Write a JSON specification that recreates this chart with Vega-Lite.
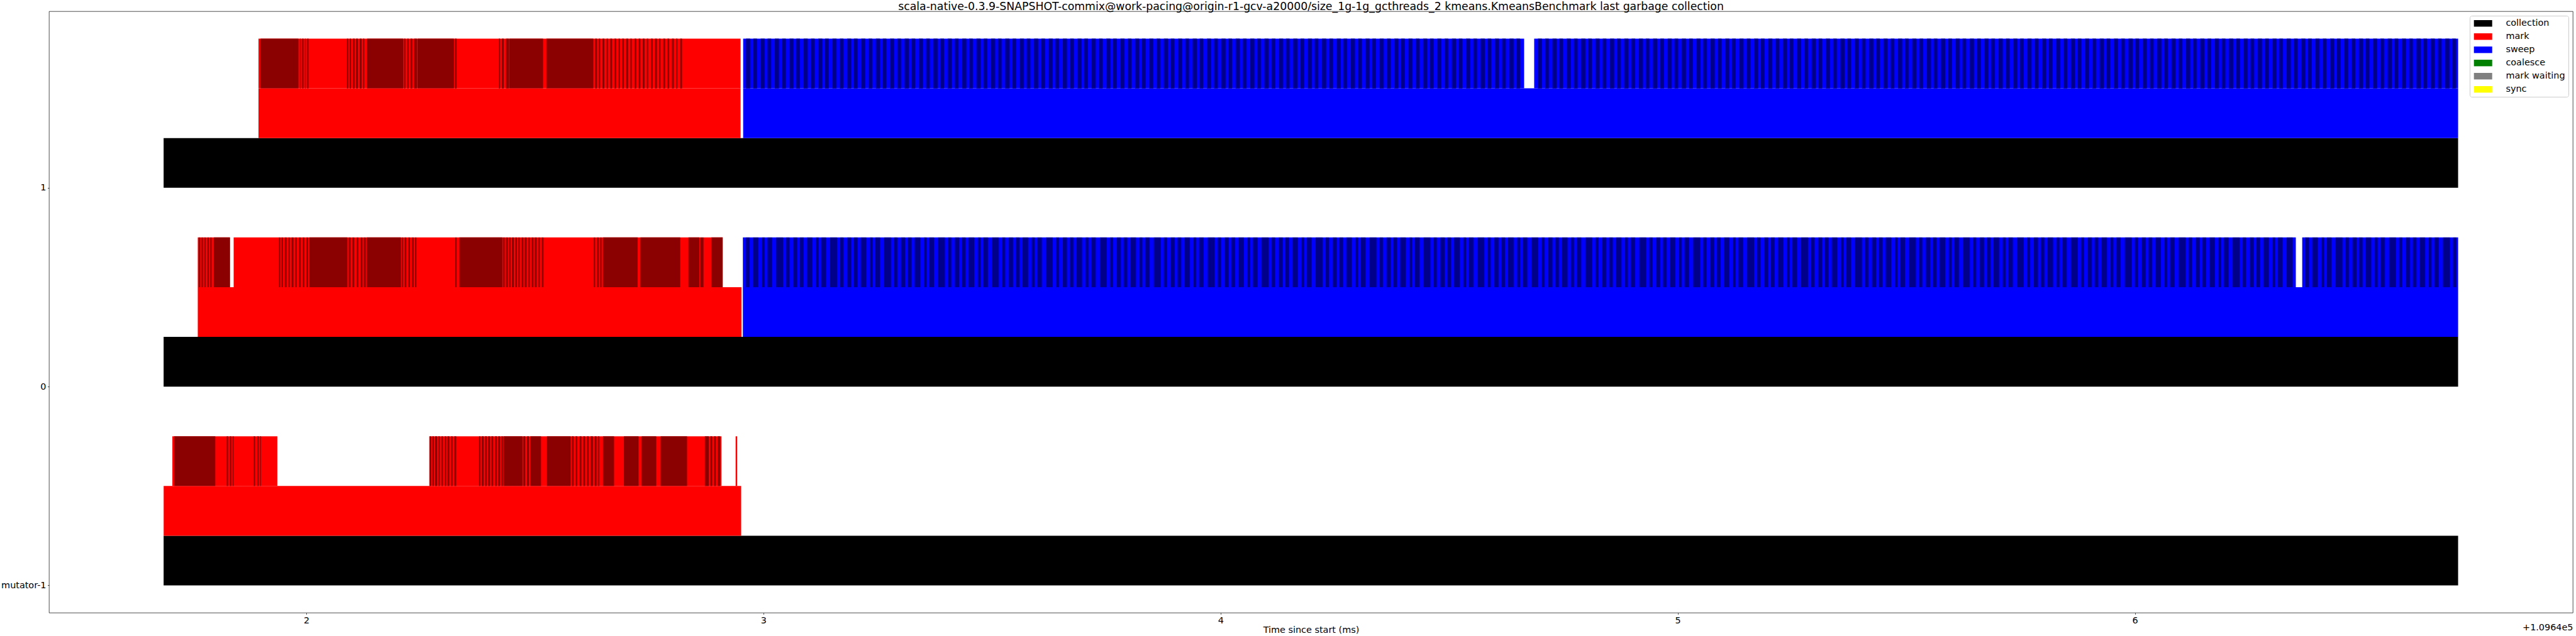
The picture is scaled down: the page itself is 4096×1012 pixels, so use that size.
{
  "$schema": "https://vega.github.io/schema/vega-lite/v6.json",
  "width": 4013,
  "height": 957,
  "autosize": {"type": "none"},
  "padding": {"left": 78, "top": 18, "right": 5, "bottom": 37},
  "background": "white",
  "title": {
    "text": "scala-native-0.3.9-SNAPSHOT-commix@work-pacing@origin-r1-gcv-a20000/size_1g-1g_gcthreads_2 kmeans.KmeansBenchmark last garbage collection",
    "font": "DejaVu Sans", "fontSize": 17.3, "fontWeight": "normal", "color": "black",
    "anchor": "middle", "frame": "group", "offset": 1, "dy": 2.5
  },
  "config": {
    "view": {"stroke": "black", "strokeWidth": 0.7},
    "font": "DejaVu Sans",
    "axis": {
      "labelFont": "DejaVu Sans", "labelFontSize": 14.4, "labelColor": "black",
      "titleFont": "DejaVu Sans", "titleFontSize": 14.4, "titleFontWeight": "normal", "titleColor": "black",
      "tickColor": "black", "tickSize": 2.5, "tickWidth": 0.7, "labelPadding": 2.5,
      "domain": false, "grid": false
    },
    "legend": {
      "orient": "top-right", "offset": 7, "padding": 5, "rowPadding": 6,
      "labelFont": "DejaVu Sans", "labelFontSize": 14.4, "labelColor": "black",
      "symbolType": "M-2.64,-0.95H2.64V0.95H-2.64Z", "symbolSize": 121, "symbolOffset": 9, "labelOffset": 29,
      "symbolStrokeWidth": 0, "symbolOpacity": 1,
      "strokeColor": "#cccccc", "fillColor": "rgba(255,255,255,0.8)", "cornerRadius": 3
    }
  },
  "datasets": {
    "phases": [
      {"thread": "1", "lane": 0, "start": 1.688, "end": 6.707, "phase": "collection"},
      {"thread": "0", "lane": 0, "start": 1.688, "end": 6.707, "phase": "collection"},
      {"thread": "mutator-1", "lane": 0, "start": 1.688, "end": 6.707, "phase": "collection"},
      {"thread": "1", "lane": 1, "start": 1.8955, "end": 2.950, "phase": "mark"},
      {"thread": "1", "lane": 1, "start": 2.9557, "end": 6.707, "phase": "sweep"},
      {"thread": "1", "lane": 2, "start": 1.8955, "end": 2.950, "phase": "mark"},
      {"thread": "1", "lane": 2, "start": 2.9557, "end": 4.664, "phase": "sweep"},
      {"thread": "1", "lane": 2, "start": 4.686, "end": 6.707, "phase": "sweep"},
      {"thread": "0", "lane": 1, "start": 1.7627, "end": 2.9519, "phase": "mark"},
      {"thread": "0", "lane": 1, "start": 2.9551, "end": 6.707, "phase": "sweep"},
      {"thread": "0", "lane": 2, "start": 1.7627, "end": 1.8331, "phase": "mark"},
      {"thread": "0", "lane": 2, "start": 1.8412, "end": 2.9106, "phase": "mark"},
      {"thread": "0", "lane": 2, "start": 2.9551, "end": 6.352, "phase": "sweep"},
      {"thread": "0", "lane": 2, "start": 6.366, "end": 6.707, "phase": "sweep"},
      {"thread": "mutator-1", "lane": 1, "start": 1.6881, "end": 2.9513, "phase": "mark"},
      {"thread": "mutator-1", "lane": 2, "start": 1.7071, "end": 1.9367, "phase": "mark"},
      {"thread": "mutator-1", "lane": 2, "start": 2.2692, "end": 2.9081, "phase": "mark"},
      {"thread": "mutator-1", "lane": 2, "start": 2.9392, "end": 2.9427, "phase": "mark"}
    ],
    "markBatches": [
      {"thread": "1", "start": 1.900, "end": 1.983},
      {"thread": "1", "start": 1.986, "end": 1.988},
      {"thread": "1", "start": 1.991, "end": 1.994},
      {"thread": "1", "start": 1.997, "end": 1.999},
      {"thread": "1", "start": 2.002, "end": 2.005},
      {"thread": "1", "start": 2.089, "end": 2.092},
      {"thread": "1", "start": 2.095, "end": 2.098},
      {"thread": "1", "start": 2.102, "end": 2.106},
      {"thread": "1", "start": 2.109, "end": 2.113},
      {"thread": "1", "start": 2.117, "end": 2.121},
      {"thread": "1", "start": 2.124, "end": 2.127},
      {"thread": "1", "start": 2.133, "end": 2.212},
      {"thread": "1", "start": 2.214, "end": 2.217},
      {"thread": "1", "start": 2.221, "end": 2.224},
      {"thread": "1", "start": 2.228, "end": 2.232},
      {"thread": "1", "start": 2.236, "end": 2.242},
      {"thread": "1", "start": 2.2435, "end": 2.323},
      {"thread": "1", "start": 2.325, "end": 2.329},
      {"thread": "1", "start": 2.421, "end": 2.424},
      {"thread": "1", "start": 2.428, "end": 2.432},
      {"thread": "1", "start": 2.437, "end": 2.443},
      {"thread": "1", "start": 2.444, "end": 2.518},
      {"thread": "1", "start": 2.5253, "end": 2.628},
      {"thread": "1", "start": 2.632, "end": 2.636},
      {"thread": "1", "start": 2.640, "end": 2.643},
      {"thread": "1", "start": 2.648, "end": 2.652},
      {"thread": "1", "start": 2.657, "end": 2.660},
      {"thread": "1", "start": 2.665, "end": 2.669},
      {"thread": "1", "start": 2.674, "end": 2.678},
      {"thread": "1", "start": 2.683, "end": 2.686},
      {"thread": "1", "start": 2.691, "end": 2.695},
      {"thread": "1", "start": 2.700, "end": 2.704},
      {"thread": "1", "start": 2.709, "end": 2.712},
      {"thread": "1", "start": 2.718, "end": 2.722},
      {"thread": "1", "start": 2.727, "end": 2.731},
      {"thread": "1", "start": 2.736, "end": 2.740},
      {"thread": "1", "start": 2.745, "end": 2.748},
      {"thread": "1", "start": 2.754, "end": 2.758},
      {"thread": "1", "start": 2.763, "end": 2.767},
      {"thread": "1", "start": 2.772, "end": 2.775},
      {"thread": "1", "start": 2.781, "end": 2.785},
      {"thread": "1", "start": 2.790, "end": 2.794},
      {"thread": "1", "start": 2.800, "end": 2.804},
      {"thread": "1", "start": 2.809, "end": 2.812},
      {"thread": "1", "start": 2.818, "end": 2.822},
      {"thread": "0", "start": 1.765, "end": 1.768},
      {"thread": "0", "start": 1.771, "end": 1.774},
      {"thread": "0", "start": 1.777, "end": 1.780},
      {"thread": "0", "start": 1.784, "end": 1.787},
      {"thread": "0", "start": 1.790, "end": 1.793},
      {"thread": "0", "start": 1.798, "end": 1.833},
      {"thread": "0", "start": 1.940, "end": 1.943},
      {"thread": "0", "start": 1.946, "end": 1.949},
      {"thread": "0", "start": 1.953, "end": 1.957},
      {"thread": "0", "start": 1.961, "end": 1.964},
      {"thread": "0", "start": 1.968, "end": 1.972},
      {"thread": "0", "start": 1.976, "end": 1.979},
      {"thread": "0", "start": 1.984, "end": 1.988},
      {"thread": "0", "start": 1.992, "end": 1.996},
      {"thread": "0", "start": 2.000, "end": 2.004},
      {"thread": "0", "start": 2.007, "end": 2.090},
      {"thread": "0", "start": 2.093, "end": 2.097},
      {"thread": "0", "start": 2.101, "end": 2.105},
      {"thread": "0", "start": 2.110, "end": 2.114},
      {"thread": "0", "start": 2.119, "end": 2.123},
      {"thread": "0", "start": 2.126, "end": 2.130},
      {"thread": "0", "start": 2.132, "end": 2.207},
      {"thread": "0", "start": 2.209, "end": 2.212},
      {"thread": "0", "start": 2.215, "end": 2.219},
      {"thread": "0", "start": 2.223, "end": 2.227},
      {"thread": "0", "start": 2.231, "end": 2.235},
      {"thread": "0", "start": 2.238, "end": 2.241},
      {"thread": "0", "start": 2.326, "end": 2.329},
      {"thread": "0", "start": 2.335, "end": 2.429},
      {"thread": "0", "start": 2.431, "end": 2.434},
      {"thread": "0", "start": 2.437, "end": 2.441},
      {"thread": "0", "start": 2.444, "end": 2.447},
      {"thread": "0", "start": 2.450, "end": 2.454},
      {"thread": "0", "start": 2.457, "end": 2.461},
      {"thread": "0", "start": 2.464, "end": 2.467},
      {"thread": "0", "start": 2.471, "end": 2.475},
      {"thread": "0", "start": 2.478, "end": 2.482},
      {"thread": "0", "start": 2.486, "end": 2.489},
      {"thread": "0", "start": 2.493, "end": 2.497},
      {"thread": "0", "start": 2.500, "end": 2.504},
      {"thread": "0", "start": 2.508, "end": 2.511},
      {"thread": "0", "start": 2.515, "end": 2.519},
      {"thread": "0", "start": 2.629, "end": 2.632},
      {"thread": "0", "start": 2.636, "end": 2.640},
      {"thread": "0", "start": 2.643, "end": 2.646},
      {"thread": "0", "start": 2.649, "end": 2.725},
      {"thread": "0", "start": 2.731, "end": 2.818},
      {"thread": "0", "start": 2.836, "end": 2.860},
      {"thread": "0", "start": 2.862, "end": 2.869},
      {"thread": "0", "start": 2.886, "end": 2.911},
      {"thread": "mutator-1", "start": 1.711, "end": 1.801},
      {"thread": "mutator-1", "start": 1.826, "end": 1.829},
      {"thread": "mutator-1", "start": 1.833, "end": 1.836},
      {"thread": "mutator-1", "start": 1.839, "end": 1.841},
      {"thread": "mutator-1", "start": 1.885, "end": 1.888},
      {"thread": "mutator-1", "start": 1.893, "end": 1.896},
      {"thread": "mutator-1", "start": 1.899, "end": 1.901},
      {"thread": "mutator-1", "start": 2.270, "end": 2.273},
      {"thread": "mutator-1", "start": 2.276, "end": 2.279},
      {"thread": "mutator-1", "start": 2.282, "end": 2.286},
      {"thread": "mutator-1", "start": 2.289, "end": 2.292},
      {"thread": "mutator-1", "start": 2.296, "end": 2.299},
      {"thread": "mutator-1", "start": 2.303, "end": 2.306},
      {"thread": "mutator-1", "start": 2.309, "end": 2.313},
      {"thread": "mutator-1", "start": 2.317, "end": 2.320},
      {"thread": "mutator-1", "start": 2.324, "end": 2.328},
      {"thread": "mutator-1", "start": 2.378, "end": 2.381},
      {"thread": "mutator-1", "start": 2.384, "end": 2.388},
      {"thread": "mutator-1", "start": 2.391, "end": 2.395},
      {"thread": "mutator-1", "start": 2.398, "end": 2.402},
      {"thread": "mutator-1", "start": 2.405, "end": 2.409},
      {"thread": "mutator-1", "start": 2.413, "end": 2.417},
      {"thread": "mutator-1", "start": 2.420, "end": 2.424},
      {"thread": "mutator-1", "start": 2.427, "end": 2.430},
      {"thread": "mutator-1", "start": 2.4315, "end": 2.473},
      {"thread": "mutator-1", "start": 2.475, "end": 2.479},
      {"thread": "mutator-1", "start": 2.483, "end": 2.487},
      {"thread": "mutator-1", "start": 2.4903, "end": 2.5136},
      {"thread": "mutator-1", "start": 2.5265, "end": 2.5783},
      {"thread": "mutator-1", "start": 2.581, "end": 2.585},
      {"thread": "mutator-1", "start": 2.589, "end": 2.593},
      {"thread": "mutator-1", "start": 2.598, "end": 2.602},
      {"thread": "mutator-1", "start": 2.606, "end": 2.610},
      {"thread": "mutator-1", "start": 2.614, "end": 2.618},
      {"thread": "mutator-1", "start": 2.622, "end": 2.627},
      {"thread": "mutator-1", "start": 2.631, "end": 2.635},
      {"thread": "mutator-1", "start": 2.638, "end": 2.641},
      {"thread": "mutator-1", "start": 2.6491, "end": 2.6733},
      {"thread": "mutator-1", "start": 2.6949, "end": 2.7269},
      {"thread": "mutator-1", "start": 2.7337, "end": 2.7656},
      {"thread": "mutator-1", "start": 2.7752, "end": 2.8330},
      {"thread": "mutator-1", "start": 2.8719, "end": 2.8805},
      {"thread": "mutator-1", "start": 2.884, "end": 2.888},
      {"thread": "mutator-1", "start": 2.892, "end": 2.896},
      {"thread": "mutator-1", "start": 2.900, "end": 2.905}
    ],
    "sweepBatches1": [
      {"start":2.962,"end":2.971},{"start":2.978,"end":2.986},{"start":2.994,"end":3.003},{"start":3.009,"end":3.017},
      {"start":3.025,"end":3.034},{"start":3.041,"end":3.049},{"start":3.057,"end":3.066},{"start":3.072,"end":3.080},
      {"start":3.088,"end":3.097},{"start":3.104,"end":3.112},{"start":3.120,"end":3.129},{"start":3.135,"end":3.143},
      {"start":3.151,"end":3.160},{"start":3.167,"end":3.175},{"start":3.183,"end":3.192},{"start":3.198,"end":3.206},
      {"start":3.214,"end":3.223},{"start":3.230,"end":3.238},{"start":3.246,"end":3.255},{"start":3.261,"end":3.269},
      {"start":3.277,"end":3.286},{"start":3.293,"end":3.301},{"start":3.309,"end":3.318},{"start":3.324,"end":3.332},
      {"start":3.340,"end":3.349},{"start":3.356,"end":3.364},{"start":3.372,"end":3.381},{"start":3.387,"end":3.395},
      {"start":3.403,"end":3.412},{"start":3.419,"end":3.427},{"start":3.435,"end":3.444},{"start":3.450,"end":3.458},
      {"start":3.466,"end":3.475},{"start":3.482,"end":3.490},{"start":3.498,"end":3.507},{"start":3.513,"end":3.521},
      {"start":3.529,"end":3.538},{"start":3.545,"end":3.553},{"start":3.561,"end":3.570},{"start":3.576,"end":3.584},
      {"start":3.592,"end":3.601},{"start":3.608,"end":3.616},{"start":3.624,"end":3.633},{"start":3.639,"end":3.647},
      {"start":3.655,"end":3.664},{"start":3.671,"end":3.679},{"start":3.687,"end":3.696},{"start":3.702,"end":3.710},
      {"start":3.718,"end":3.727},{"start":3.734,"end":3.742},{"start":3.750,"end":3.759},{"start":3.765,"end":3.773},
      {"start":3.781,"end":3.790},{"start":3.797,"end":3.805},{"start":3.813,"end":3.822},{"start":3.828,"end":3.836},
      {"start":3.844,"end":3.853},{"start":3.860,"end":3.868},{"start":3.876,"end":3.885},{"start":3.891,"end":3.899},
      {"start":3.907,"end":3.916},{"start":3.923,"end":3.931},{"start":3.939,"end":3.948},{"start":3.954,"end":3.962},
      {"start":3.970,"end":3.979},{"start":3.986,"end":3.994},{"start":4.002,"end":4.011},{"start":4.017,"end":4.025},
      {"start":4.033,"end":4.042},{"start":4.049,"end":4.057},{"start":4.065,"end":4.074},{"start":4.080,"end":4.088},
      {"start":4.096,"end":4.105},{"start":4.112,"end":4.120},{"start":4.128,"end":4.137},{"start":4.143,"end":4.151},
      {"start":4.159,"end":4.168},{"start":4.175,"end":4.183},{"start":4.191,"end":4.200},{"start":4.206,"end":4.214},
      {"start":4.222,"end":4.231},{"start":4.238,"end":4.246},{"start":4.254,"end":4.263},{"start":4.269,"end":4.277},
      {"start":4.285,"end":4.294},{"start":4.301,"end":4.309},{"start":4.317,"end":4.326},{"start":4.332,"end":4.340},
      {"start":4.348,"end":4.357},{"start":4.364,"end":4.372},{"start":4.380,"end":4.389},{"start":4.395,"end":4.403},
      {"start":4.411,"end":4.420},{"start":4.427,"end":4.435},{"start":4.443,"end":4.452},{"start":4.458,"end":4.466},
      {"start":4.474,"end":4.483},{"start":4.490,"end":4.498},{"start":4.506,"end":4.515},{"start":4.521,"end":4.529},
      {"start":4.537,"end":4.546},{"start":4.553,"end":4.561},{"start":4.569,"end":4.578},{"start":4.584,"end":4.592},
      {"start":4.600,"end":4.609},{"start":4.616,"end":4.624},{"start":4.632,"end":4.641},{"start":4.647,"end":4.655},
      {"start":4.694,"end":4.703},{"start":4.710,"end":4.718},{"start":4.726,"end":4.735},{"start":4.741,"end":4.749},
      {"start":4.757,"end":4.766},{"start":4.773,"end":4.781},{"start":4.789,"end":4.798},{"start":4.804,"end":4.812},
      {"start":4.820,"end":4.829},{"start":4.836,"end":4.844},{"start":4.852,"end":4.861},{"start":4.867,"end":4.875},
      {"start":4.883,"end":4.892},{"start":4.899,"end":4.907},{"start":4.915,"end":4.924},{"start":4.930,"end":4.938},
      {"start":4.946,"end":4.955},{"start":4.962,"end":4.970},{"start":4.978,"end":4.987},{"start":4.993,"end":5.001},
      {"start":5.009,"end":5.018},{"start":5.025,"end":5.033},{"start":5.041,"end":5.050},{"start":5.056,"end":5.064},
      {"start":5.072,"end":5.081},{"start":5.088,"end":5.096},{"start":5.104,"end":5.113},{"start":5.119,"end":5.127},
      {"start":5.135,"end":5.144},{"start":5.151,"end":5.159},{"start":5.167,"end":5.176},{"start":5.182,"end":5.190},
      {"start":5.198,"end":5.207},{"start":5.214,"end":5.222},{"start":5.230,"end":5.239},{"start":5.245,"end":5.253},
      {"start":5.261,"end":5.270},{"start":5.277,"end":5.285},{"start":5.293,"end":5.302},{"start":5.308,"end":5.316},
      {"start":5.324,"end":5.333},{"start":5.340,"end":5.348},{"start":5.356,"end":5.365},{"start":5.371,"end":5.379},
      {"start":5.387,"end":5.396},{"start":5.403,"end":5.411},{"start":5.419,"end":5.428},{"start":5.434,"end":5.442},
      {"start":5.450,"end":5.459},{"start":5.466,"end":5.474},{"start":5.482,"end":5.491},{"start":5.497,"end":5.505},
      {"start":5.513,"end":5.522},{"start":5.529,"end":5.537},{"start":5.545,"end":5.554},{"start":5.560,"end":5.568},
      {"start":5.576,"end":5.585},{"start":5.592,"end":5.600},{"start":5.608,"end":5.617},{"start":5.623,"end":5.631},
      {"start":5.639,"end":5.648},{"start":5.655,"end":5.663},{"start":5.671,"end":5.680},{"start":5.686,"end":5.694},
      {"start":5.702,"end":5.711},{"start":5.718,"end":5.726},{"start":5.734,"end":5.743},{"start":5.749,"end":5.757},
      {"start":5.765,"end":5.774},{"start":5.781,"end":5.789},{"start":5.797,"end":5.806},{"start":5.812,"end":5.820},
      {"start":5.828,"end":5.837},{"start":5.844,"end":5.852},{"start":5.860,"end":5.869},{"start":5.875,"end":5.883},
      {"start":5.891,"end":5.900},{"start":5.907,"end":5.915},{"start":5.923,"end":5.932},{"start":5.938,"end":5.946},
      {"start":5.954,"end":5.963},{"start":5.970,"end":5.978},{"start":5.986,"end":5.995},{"start":6.001,"end":6.009},
      {"start":6.017,"end":6.026},{"start":6.033,"end":6.041},{"start":6.049,"end":6.058},{"start":6.064,"end":6.072},
      {"start":6.080,"end":6.089},{"start":6.096,"end":6.104},{"start":6.112,"end":6.121},{"start":6.127,"end":6.135},
      {"start":6.143,"end":6.152},{"start":6.159,"end":6.167},{"start":6.175,"end":6.184},{"start":6.190,"end":6.198},
      {"start":6.206,"end":6.215},{"start":6.222,"end":6.230},{"start":6.238,"end":6.247},{"start":6.253,"end":6.261},
      {"start":6.269,"end":6.278},{"start":6.285,"end":6.293},{"start":6.301,"end":6.310},{"start":6.316,"end":6.324},
      {"start":6.332,"end":6.341},{"start":6.348,"end":6.356},{"start":6.364,"end":6.373},{"start":6.379,"end":6.387},
      {"start":6.395,"end":6.404},{"start":6.411,"end":6.419},{"start":6.427,"end":6.436},{"start":6.442,"end":6.450},
      {"start":6.458,"end":6.467},{"start":6.474,"end":6.482},{"start":6.490,"end":6.499},{"start":6.505,"end":6.513},
      {"start":6.521,"end":6.530},{"start":6.537,"end":6.545},{"start":6.553,"end":6.562},{"start":6.568,"end":6.576},
      {"start":6.584,"end":6.593},{"start":6.600,"end":6.608},{"start":6.616,"end":6.625},{"start":6.631,"end":6.639},
      {"start":6.647,"end":6.656},{"start":6.663,"end":6.671},{"start":6.679,"end":6.688},{"start":6.694,"end":6.702}
    ],
    "sweepBatches0": [
      {"start":2.962,"end":2.970},{"start":2.977,"end":2.989},{"start":2.997,"end":3.003},{"start":3.009,"end":3.019},{"start":3.028,"end":3.043},{"start":3.050,"end":3.057},{"start":3.065,"end":3.074},
      {"start":3.080,"end":3.088},{"start":3.095,"end":3.107},{"start":3.115,"end":3.121},{"start":3.127,"end":3.137},{"start":3.146,"end":3.161},{"start":3.168,"end":3.175},{"start":3.183,"end":3.192},
      {"start":3.198,"end":3.206},{"start":3.213,"end":3.225},{"start":3.233,"end":3.239},{"start":3.245,"end":3.255},{"start":3.264,"end":3.279},{"start":3.286,"end":3.293},{"start":3.301,"end":3.310},
      {"start":3.316,"end":3.324},{"start":3.331,"end":3.343},{"start":3.351,"end":3.357},{"start":3.363,"end":3.373},{"start":3.382,"end":3.397},{"start":3.404,"end":3.411},{"start":3.419,"end":3.428},
      {"start":3.434,"end":3.442},{"start":3.449,"end":3.461},{"start":3.469,"end":3.475},{"start":3.481,"end":3.491},{"start":3.500,"end":3.515},{"start":3.522,"end":3.529},{"start":3.537,"end":3.546},
      {"start":3.552,"end":3.560},{"start":3.567,"end":3.579},{"start":3.587,"end":3.593},{"start":3.599,"end":3.609},{"start":3.618,"end":3.633},{"start":3.640,"end":3.647},{"start":3.655,"end":3.664},
      {"start":3.670,"end":3.678},{"start":3.685,"end":3.697},{"start":3.705,"end":3.711},{"start":3.717,"end":3.727},{"start":3.736,"end":3.751},{"start":3.758,"end":3.765},{"start":3.773,"end":3.782},
      {"start":3.788,"end":3.796},{"start":3.803,"end":3.815},{"start":3.823,"end":3.829},{"start":3.835,"end":3.845},{"start":3.854,"end":3.869},{"start":3.876,"end":3.883},{"start":3.891,"end":3.900},
      {"start":3.906,"end":3.914},{"start":3.921,"end":3.933},{"start":3.941,"end":3.947},{"start":3.953,"end":3.963},{"start":3.972,"end":3.987},{"start":3.994,"end":4.001},{"start":4.009,"end":4.018},
      {"start":4.024,"end":4.032},{"start":4.039,"end":4.051},{"start":4.059,"end":4.065},{"start":4.071,"end":4.081},{"start":4.090,"end":4.105},{"start":4.112,"end":4.119},{"start":4.127,"end":4.136},
      {"start":4.142,"end":4.150},{"start":4.157,"end":4.169},{"start":4.177,"end":4.183},{"start":4.189,"end":4.199},{"start":4.208,"end":4.223},{"start":4.230,"end":4.237},{"start":4.245,"end":4.254},
      {"start":4.260,"end":4.268},{"start":4.275,"end":4.287},{"start":4.295,"end":4.301},{"start":4.307,"end":4.317},{"start":4.326,"end":4.341},{"start":4.348,"end":4.355},{"start":4.363,"end":4.372},
      {"start":4.378,"end":4.386},{"start":4.393,"end":4.405},{"start":4.413,"end":4.419},{"start":4.425,"end":4.435},{"start":4.444,"end":4.459},{"start":4.466,"end":4.473},{"start":4.481,"end":4.490},
      {"start":4.496,"end":4.504},{"start":4.511,"end":4.523},{"start":4.531,"end":4.537},{"start":4.543,"end":4.553},{"start":4.562,"end":4.577},{"start":4.584,"end":4.591},{"start":4.599,"end":4.608},
      {"start":4.614,"end":4.622},{"start":4.629,"end":4.641},{"start":4.649,"end":4.655},{"start":4.661,"end":4.671},{"start":4.680,"end":4.695},{"start":4.702,"end":4.709},{"start":4.717,"end":4.726},
      {"start":4.732,"end":4.740},{"start":4.747,"end":4.759},{"start":4.767,"end":4.773},{"start":4.779,"end":4.789},{"start":4.798,"end":4.813},{"start":4.820,"end":4.827},{"start":4.835,"end":4.844},
      {"start":4.850,"end":4.858},{"start":4.865,"end":4.877},{"start":4.885,"end":4.891},{"start":4.897,"end":4.907},{"start":4.916,"end":4.931},{"start":4.938,"end":4.945},{"start":4.953,"end":4.962},
      {"start":4.968,"end":4.976},{"start":4.983,"end":4.995},{"start":5.003,"end":5.009},{"start":5.015,"end":5.025},{"start":5.034,"end":5.049},{"start":5.056,"end":5.063},{"start":5.071,"end":5.080},
      {"start":5.086,"end":5.094},{"start":5.101,"end":5.113},{"start":5.121,"end":5.127},{"start":5.133,"end":5.143},{"start":5.152,"end":5.167},{"start":5.174,"end":5.181},{"start":5.189,"end":5.198},
      {"start":5.204,"end":5.212},{"start":5.219,"end":5.231},{"start":5.239,"end":5.245},{"start":5.251,"end":5.261},{"start":5.270,"end":5.285},{"start":5.292,"end":5.299},{"start":5.307,"end":5.316},
      {"start":5.322,"end":5.330},{"start":5.337,"end":5.349},{"start":5.357,"end":5.363},{"start":5.369,"end":5.379},{"start":5.388,"end":5.403},{"start":5.410,"end":5.417},{"start":5.425,"end":5.434},
      {"start":5.440,"end":5.448},{"start":5.455,"end":5.467},{"start":5.475,"end":5.481},{"start":5.487,"end":5.497},{"start":5.506,"end":5.521},{"start":5.528,"end":5.535},{"start":5.543,"end":5.552},
      {"start":5.558,"end":5.566},{"start":5.573,"end":5.585},{"start":5.593,"end":5.599},{"start":5.605,"end":5.615},{"start":5.624,"end":5.639},{"start":5.646,"end":5.653},{"start":5.661,"end":5.670},
      {"start":5.676,"end":5.684},{"start":5.691,"end":5.703},{"start":5.711,"end":5.717},{"start":5.723,"end":5.733},{"start":5.742,"end":5.757},{"start":5.764,"end":5.771},{"start":5.779,"end":5.788},
      {"start":5.794,"end":5.802},{"start":5.809,"end":5.821},{"start":5.829,"end":5.835},{"start":5.841,"end":5.851},{"start":5.860,"end":5.875},{"start":5.882,"end":5.889},{"start":5.897,"end":5.906},
      {"start":5.912,"end":5.920},{"start":5.927,"end":5.939},{"start":5.947,"end":5.953},{"start":5.959,"end":5.969},{"start":5.978,"end":5.993},{"start":6.000,"end":6.007},{"start":6.015,"end":6.024},
      {"start":6.030,"end":6.038},{"start":6.045,"end":6.057},{"start":6.065,"end":6.071},{"start":6.077,"end":6.087},{"start":6.096,"end":6.111},{"start":6.118,"end":6.125},{"start":6.133,"end":6.142},
      {"start":6.148,"end":6.156},{"start":6.163,"end":6.175},{"start":6.183,"end":6.189},{"start":6.195,"end":6.205},{"start":6.214,"end":6.229},{"start":6.236,"end":6.243},{"start":6.251,"end":6.260},
      {"start":6.266,"end":6.274},{"start":6.281,"end":6.293},{"start":6.301,"end":6.307},{"start":6.313,"end":6.323},{"start":6.332,"end":6.345},
      {"start":6.372,"end":6.381},{"start":6.388,"end":6.400},{"start":6.408,"end":6.414},{"start":6.420,"end":6.430},{"start":6.439,"end":6.454},{"start":6.461,"end":6.468},{"start":6.476,"end":6.485},
      {"start":6.490,"end":6.498},{"start":6.505,"end":6.517},{"start":6.525,"end":6.531},{"start":6.537,"end":6.547},{"start":6.556,"end":6.571},{"start":6.578,"end":6.585},{"start":6.593,"end":6.602},
      {"start":6.608,"end":6.616},{"start":6.623,"end":6.635},{"start":6.643,"end":6.649},{"start":6.655,"end":6.665},{"start":6.674,"end":6.689},{"start":6.696,"end":6.703}
    ]
  },
  "layer": [
    {
      "data": {"name": "phases"},
      "mark": {"type": "bar"},
      "encoding": {
        "x": {
          "field": "start", "type": "quantitative",
          "scale": {"domain": [1.4374, 6.958], "nice": false, "zero": false},
          "axis": {"values": [2, 3, 4, 5, 6], "format": "d", "title": "Time since start (ms)", "titlePadding": 2, "labelFlush": false}
        },
        "x2": {"field": "end"},
        "y": {
          "field": "thread", "type": "nominal",
          "scale": {"domain": ["1", "0", "mutator-1"], "paddingInner": 0, "paddingOuter": 0.0125},
          "axis": {"title": null, "tickOffset": 118.6, "labelBaseline": "middle"}
        },
        "yOffset": {
          "field": "lane", "type": "ordinal",
          "scale": {"domain": [2, 1, 0], "paddingInner": 0, "paddingOuter": 0.5}
        },
        "color": {
          "field": "phase", "type": "nominal",
          "scale": {
            "domain": ["collection", "mark", "sweep", "coalesce", "mark waiting", "sync"],
            "range": ["#000000", "#ff0000", "#0000ff", "#008000", "#808080", "#ffff00"]
          },
          "legend": {"title": null}
        }
      }
    },
    {
      "data": {"name": "markBatches"},
      "mark": {"type": "bar", "color": "#8b0000"},
      "encoding": {
        "x": {
          "field": "start", "type": "quantitative",
          "axis": {"orient": "bottom", "labels": false, "ticks": false, "domain": false, "grid": false,
                   "title": "+1.0964e5", "titleAnchor": "end", "titleAlign": "right", "titleBaseline": "alphabetic",
                   "titleX": 4013, "titleY": 27}
        },
        "x2": {"field": "end"},
        "y": {"field": "thread", "type": "nominal"},
        "yOffset": {"datum": 2, "type": "ordinal"}
      }
    },
    {
      "data": {"name": "sweepBatches1"},
      "mark": {"type": "bar", "color": "#00008b"},
      "encoding": {
        "x": {"field": "start", "type": "quantitative", "axis": null},
        "x2": {"field": "end"},
        "y": {"datum": "1", "type": "nominal"},
        "yOffset": {"datum": 2, "type": "ordinal"}
      }
    },
    {
      "data": {"name": "sweepBatches0"},
      "mark": {"type": "bar", "color": "#00008b"},
      "encoding": {
        "x": {"field": "start", "type": "quantitative", "axis": null},
        "x2": {"field": "end"},
        "y": {"datum": "0", "type": "nominal"},
        "yOffset": {"datum": 2, "type": "ordinal"}
      }
    }
  ],
  "resolve": {"axis": {"x": "independent"}}
}
